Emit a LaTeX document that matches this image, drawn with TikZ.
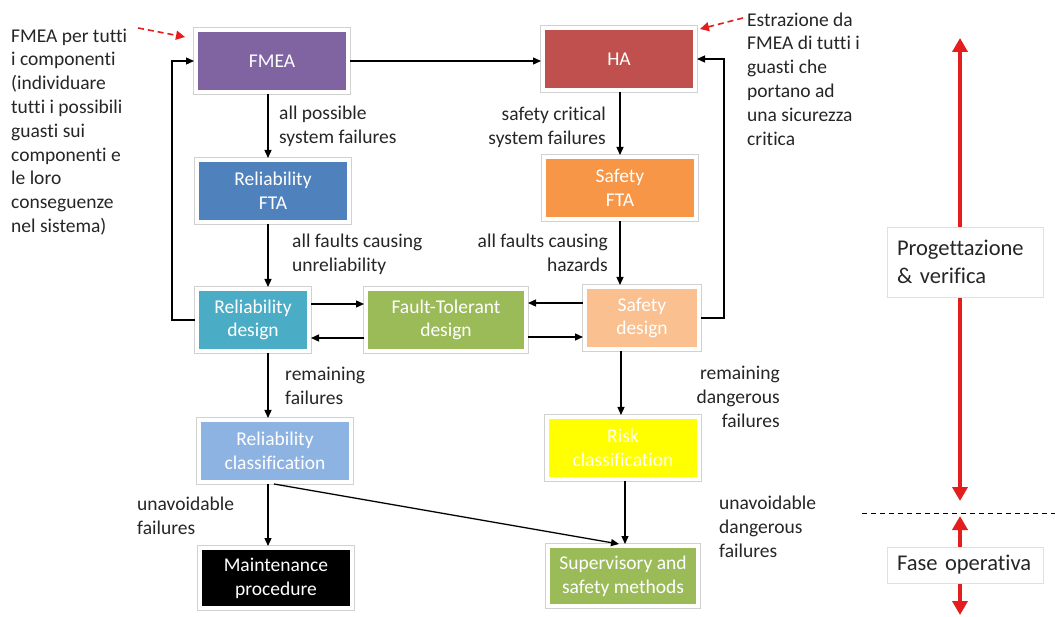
\documentclass[tikz,border=0pt]{standalone}
\usepackage{fontspec}
\setmainfont{Carlito}[Ligatures=NoCommon]
\usetikzlibrary{arrows.meta}
\definecolor{cFMEA}{HTML}{8064A2}
\definecolor{cHA}{HTML}{C0504D}
\definecolor{cRelFTA}{HTML}{4F81BD}
\definecolor{cSafFTA}{HTML}{F79646}
\definecolor{cRelDes}{HTML}{4BACC6}
\definecolor{cFT}{HTML}{9BBB59}
\definecolor{cSafDes}{HTML}{FAC090}
\definecolor{cRelCls}{HTML}{8DB3E2}
\definecolor{cRisk}{HTML}{FFFF00}
\definecolor{cRed}{HTML}{E41E1E}
\tikzset{
  box/.style={fill=#1, draw=white, line width=4pt,
    preaction={draw=black!18, line width=5.6pt},
    text=white, align=center, inner sep=0pt,
    minimum width=152pt, minimum height=62pt},
  arr/.style={-{Triangle[length=8pt,width=7pt]}, line width=1.3pt, black},
  redarr/.style={-{Triangle[length=9pt,width=9pt]}, line width=1.6pt, cRed, dash pattern=on 6pt off 4pt},
  bigred/.style={{Triangle[length=14pt,width=15pt]}-{Triangle[length=14pt,width=15pt]}, line width=4pt, cRed},
  lbl/.style={inner sep=0pt, align=left, text=black!85},
  phase/.style={fill=white, draw=black!12, line width=0.8pt, inner xsep=10pt, inner ysep=0pt,
    text width=136pt, align=left, font=\fontsize{22.5}{27.5}\selectfont, text=black!85}
}
\begin{document}
\begin{tikzpicture}[x=1pt,y=-1pt]
\fontsize{19.5}{23.8}\selectfont
\useasboundingbox[fill=white] (0,0) rectangle (1055,617);

% boxes
\node[box=cFMEA] (fmea) at (272,61) {FMEA};
\node[box=cHA] (ha) at (619,59) {HA};
\node[box=cRelFTA] (relfta) at (273,191) {Reliability\\FTA};
\node[box=cSafFTA] (saffta) at (620,188) {Safety\\FTA};
\node[box=cRelDes, minimum width=112pt] (reldes) at (253,320) {Reliability\\design};
\node[box=cFT, minimum width=160pt] (ft) at (446,320) {Fault-Tolerant\\design};
\node[box=cSafDes, minimum width=114pt] (safdes) at (642,318) {Safety\\design};
\node[box=cRelCls] (relcls) at (275,451) {Reliability\\classification};
\node[box=cRisk] (risk) at (623,448) {Risk\\classification};
\node[box=black, minimum height=60pt] (maint) at (276,578) {Maintenance\\procedure};
\node[box=cFT, minimum width=150pt, minimum height=60pt] (sup) at (623,576) {Supervisory and\\safety methods};

% column coordinates
\coordinate (cl) at (268,0);
\coordinate (cr) at (620,0);

% arrows
\draw[arr] (fmea.east) -- (fmea.east -| ha.west);
\draw[arr] (fmea.south -| cl) -- (relfta.north -| cl);
\draw[arr] (ha.south -| cr) -- (saffta.north -| cr);
\draw[arr] (relfta.south -| cl) -- (reldes.north -| cl);
\draw[arr] (saffta.south -| cr) -- (safdes.north -| cr);
\draw[arr] (reldes.west) -- (reldes.west -| 172,0) |- (fmea.west);
\draw[arr] (safdes.east) -- (safdes.east -| 724,0) |- (ha.east);
\draw[arr] (reldes.east |- 0,304) -- (ft.west |- 0,304);
\draw[arr] (ft.west |- 0,338) -- (reldes.east |- 0,338);
\draw[arr] (safdes.west |- 0,303) -- (ft.east |- 0,303);
\draw[arr] (ft.east |- 0,337) -- (safdes.west |- 0,337);
\draw[arr] (reldes.south -| cl) -- (relcls.north -| cl);
\draw[arr] (safdes.south -| 621,0) -- (risk.north -| 621,0);
\draw[arr] (relcls.south -| cl) -- (maint.north -| cl);
\draw[arr] (risk.south -| 625,0) -- (sup.north -| 625,0);
\draw[arr] (relcls.south -| 274,0) -- (sup.north -| 619,0);

% labels
\node[lbl, anchor=west] (l1) at (279,126) {all possible\\system failures};
\node[lbl, anchor=east, align=right] (l2) at (606,127) {safety critical\\system failures};
\node[lbl, anchor=west] (l3) at (292,254) {all faults causing\\unreliability};
\node[lbl, anchor=east, align=right] (l4) at (608,253) {all faults causing\\hazards};
\node[lbl, anchor=west] (l5) at (285,386) {remaining\\failures};
\node[lbl, anchor=east, align=right] (l6) at (780,397) {remaining\\dangerous\\failures};
\node[lbl, anchor=west] (l7) at (137,516) {unavoidable\\failures};
\node[lbl, anchor=west] (l8) at (719,527) {unavoidable\\dangerous\\failures};

% notes
\node[lbl, anchor=west] (nl) at (11,132) {FMEA per tutti\\i componenti\\(individuare\\tutti i possibili\\guasti sui\\componenti e\\le loro\\conseguenze\\nel sistema)};
\node[lbl, anchor=west] (nr) at (747,79) {Estrazione da\\FMEA di tutti i\\guasti che\\portano ad\\una sicurezza\\critica};
\coordinate (la) at (138,28);
\coordinate (lb) at (185,37);
\coordinate (ra) at (743,18);
\coordinate (rb) at (700,29);
\draw[redarr] (la) -- (lb);
\draw[redarr] (ra) -- (rb);

% right panel
\coordinate (t1) at (960,38);
\coordinate (b1) at (960,501);
\coordinate (t2) at (960,516);
\coordinate (b2) at (960,615);
\draw[bigred] (t1) -- (b1);
\draw[bigred] (t2) -- (b2);
\coordinate (d1) at (862,513);
\coordinate (d2) at (1055,513);
\draw[dash pattern=on 5pt off 4pt, line width=1pt] (d1) -- (d2);
\node[phase, minimum height=70pt] (p1) at (965,262) {\mbox{Progettazione}\\\mbox{\& verifica}};
\node[phase, minimum height=36pt] (p2) at (965,565) {\mbox{Fase operativa}};
\end{tikzpicture}
\end{document}
